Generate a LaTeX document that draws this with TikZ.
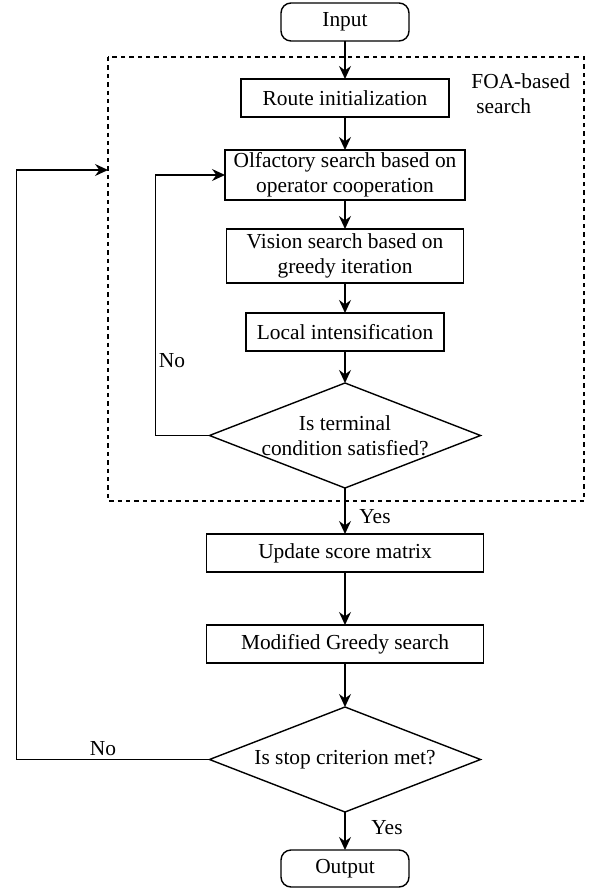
\documentclass[tikz,border=0pt]{standalone}
\usepackage{fontspec}
\setmainfont{Liberation Serif}
\usetikzlibrary{shapes.geometric,arrows.meta,positioning,calc}
\newcommand{\flowfont}{\fontsize{10.7pt}{12.5pt}\selectfont}
\tikzset{
  box style/.style={rectangle, draw, line width=0.7pt, minimum height=19pt,
    inner sep=1pt, outer sep=0pt, align=center, font=\flowfont},
  term style/.style={box style, rounded corners=5pt, minimum width=64pt},
  dec style/.style={diamond, draw, line width=0.7pt, aspect=2.58, minimum width=135.5pt,
    minimum height=52.5pt, inner sep=-6pt, outer sep=0pt, align=center, font=\flowfont},
  arr style/.style={-{Stealth[length=6.5pt,width=6pt,inset=2.2pt]}, line width=0.7pt},
  lbl style/.style={inner sep=0pt, font=\flowfont},
  foa style/.style={draw, line width=0.7pt, dash pattern=on 2.2pt off 2pt}
}
\begin{document}
\begin{tikzpicture}
\useasboundingbox (0,0) rectangle (294.5pt,-446pt);
% main column
\node[term style] (in) at (172.5pt,-11pt) {Input};
\node[box style, minimum width=104pt, below=19pt of in] (route) {Route initialization};
\node[box style, minimum width=120pt, minimum height=25pt, below=16.5pt of route] (olf)
  {Olfactory search based on\\operator cooperation};
\node[box style, minimum width=118.5pt, minimum height=27pt, below=14.5pt of olf] (vis)
  {Vision search based on\\greedy iteration};
\node[box style, minimum width=99pt, below=15pt of vis] (loc) {Local intensification};
\node[dec style, below=16pt of loc] (term) {Is terminal\\condition satisfied?};
\node[box style, minimum width=138.5pt, below=23pt of term] (upd) {Update score matrix};
\node[box style, minimum width=138.5pt, below=26.5pt of upd] (greedy) {Modified Greedy search};
\node[dec style, below=22pt of greedy] (stop) {Is stop criterion met?};
\node[term style, minimum height=18.5pt, below=19pt of stop] (out) {Output};
% FOA-based search frame
\coordinate (foa nw) at ($(route.north)+(-118.5pt,11pt)$);
\coordinate (foa se) at ($(term.south)+(119.5pt,-6.5pt)$);
\draw[foa style] (foa nw) rectangle (foa se);
\coordinate (foa in) at ($(foa nw |- olf.center)+(0,2.5pt)$);
\node[lbl style, align=left, anchor=north west] (foa) at (235.5pt,-36.5pt)
  {FOA-based\\\hspace*{2.5pt}search};
% connectors
\draw[arr style] (in)--(route);
\draw[arr style] (route)--(olf);
\draw[arr style] (olf)--(vis);
\draw[arr style] (vis)--(loc);
\draw[arr style] (loc)--(term);
\draw[arr style] (term)--(upd);
\draw[arr style] (upd)--(greedy);
\draw[arr style] (greedy)--(stop);
\draw[arr style] (stop)--(out);
\draw[arr style] (term.west) -- ++(-27pt,0) |- (olf.west);
\draw[arr style] (stop.west) -- ++(-96.5pt,0) |- (foa in);
% branch labels
\node[lbl style] (no1) at (86pt,-180.5pt) {No};
\node[lbl style] (yes1) at (187.5pt,-258.5pt) {Yes};
\node[lbl style] (no2) at (51.5pt,-374.5pt) {No};
\node[lbl style] (yes2) at (193.5pt,-414pt) {Yes};
\end{tikzpicture}
\end{document}
